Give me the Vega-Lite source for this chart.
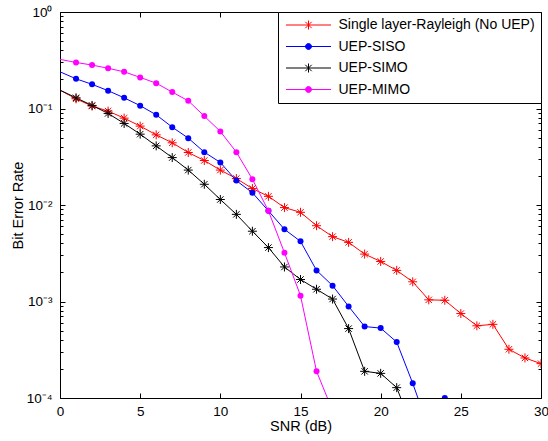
{
  "$schema": "https://vega.github.io/schema/vega-lite/v6.json",
  "width": 481,
  "height": 386,
  "autosize": "none",
  "padding": {"left": 60, "top": 12, "right": 7, "bottom": 43},
  "background": "white",
  "data": {"values": [
    {"s": "Single layer-Rayleigh (No UEP)", "x": 0, "y": 0.155},
    {"s": "Single layer-Rayleigh (No UEP)", "x": 1, "y": 0.126},
    {"s": "Single layer-Rayleigh (No UEP)", "x": 2, "y": 0.106},
    {"s": "Single layer-Rayleigh (No UEP)", "x": 3, "y": 0.094},
    {"s": "Single layer-Rayleigh (No UEP)", "x": 4, "y": 0.0794},
    {"s": "Single layer-Rayleigh (No UEP)", "x": 5, "y": 0.0657},
    {"s": "Single layer-Rayleigh (No UEP)", "x": 6, "y": 0.0533},
    {"s": "Single layer-Rayleigh (No UEP)", "x": 7, "y": 0.0441},
    {"s": "Single layer-Rayleigh (No UEP)", "x": 8, "y": 0.035},
    {"s": "Single layer-Rayleigh (No UEP)", "x": 9, "y": 0.0289},
    {"s": "Single layer-Rayleigh (No UEP)", "x": 10, "y": 0.023},
    {"s": "Single layer-Rayleigh (No UEP)", "x": 11, "y": 0.0188},
    {"s": "Single layer-Rayleigh (No UEP)", "x": 12, "y": 0.0148},
    {"s": "Single layer-Rayleigh (No UEP)", "x": 13, "y": 0.0123},
    {"s": "Single layer-Rayleigh (No UEP)", "x": 14, "y": 0.0094},
    {"s": "Single layer-Rayleigh (No UEP)", "x": 15, "y": 0.0084},
    {"s": "Single layer-Rayleigh (No UEP)", "x": 16, "y": 0.0061},
    {"s": "Single layer-Rayleigh (No UEP)", "x": 17, "y": 0.0047},
    {"s": "Single layer-Rayleigh (No UEP)", "x": 18, "y": 0.0041},
    {"s": "Single layer-Rayleigh (No UEP)", "x": 19, "y": 0.0031},
    {"s": "Single layer-Rayleigh (No UEP)", "x": 20, "y": 0.0026},
    {"s": "Single layer-Rayleigh (No UEP)", "x": 21, "y": 0.0021},
    {"s": "Single layer-Rayleigh (No UEP)", "x": 22, "y": 0.0016},
    {"s": "Single layer-Rayleigh (No UEP)", "x": 23, "y": 0.00104},
    {"s": "Single layer-Rayleigh (No UEP)", "x": 24, "y": 0.00103},
    {"s": "Single layer-Rayleigh (No UEP)", "x": 25, "y": 0.00075},
    {"s": "Single layer-Rayleigh (No UEP)", "x": 26, "y": 0.00056},
    {"s": "Single layer-Rayleigh (No UEP)", "x": 27, "y": 0.00058},
    {"s": "Single layer-Rayleigh (No UEP)", "x": 28, "y": 0.00032},
    {"s": "Single layer-Rayleigh (No UEP)", "x": 29, "y": 0.00026},
    {"s": "Single layer-Rayleigh (No UEP)", "x": 30, "y": 0.000227},
    {"s": "UEP-SISO", "x": 0, "y": 0.24},
    {"s": "UEP-SISO", "x": 1, "y": 0.203},
    {"s": "UEP-SISO", "x": 2, "y": 0.178},
    {"s": "UEP-SISO", "x": 3, "y": 0.153},
    {"s": "UEP-SISO", "x": 4, "y": 0.129},
    {"s": "UEP-SISO", "x": 5, "y": 0.107},
    {"s": "UEP-SISO", "x": 6, "y": 0.086},
    {"s": "UEP-SISO", "x": 7, "y": 0.0641},
    {"s": "UEP-SISO", "x": 8, "y": 0.0493},
    {"s": "UEP-SISO", "x": 9, "y": 0.0353},
    {"s": "UEP-SISO", "x": 10, "y": 0.0276},
    {"s": "UEP-SISO", "x": 11, "y": 0.0179},
    {"s": "UEP-SISO", "x": 12, "y": 0.0134},
    {"s": "UEP-SISO", "x": 13, "y": 0.0087},
    {"s": "UEP-SISO", "x": 14, "y": 0.0056},
    {"s": "UEP-SISO", "x": 15, "y": 0.0042},
    {"s": "UEP-SISO", "x": 16, "y": 0.0021},
    {"s": "UEP-SISO", "x": 17, "y": 0.00146},
    {"s": "UEP-SISO", "x": 18, "y": 0.00089},
    {"s": "UEP-SISO", "x": 19, "y": 0.00055},
    {"s": "UEP-SISO", "x": 20, "y": 0.00053},
    {"s": "UEP-SISO", "x": 21, "y": 0.00038},
    {"s": "UEP-SISO", "x": 22, "y": 0.000142},
    {"s": "UEP-SISO", "x": 23, "y": 0.000048},
    {"s": "UEP-SISO", "x": 24, "y": 0.0001},
    {"s": "UEP-SIMO", "x": 0, "y": 0.155},
    {"s": "UEP-SIMO", "x": 1, "y": 0.129},
    {"s": "UEP-SIMO", "x": 2, "y": 0.1076},
    {"s": "UEP-SIMO", "x": 3, "y": 0.0889},
    {"s": "UEP-SIMO", "x": 4, "y": 0.07},
    {"s": "UEP-SIMO", "x": 5, "y": 0.0542},
    {"s": "UEP-SIMO", "x": 6, "y": 0.041},
    {"s": "UEP-SIMO", "x": 7, "y": 0.031},
    {"s": "UEP-SIMO", "x": 8, "y": 0.023},
    {"s": "UEP-SIMO", "x": 9, "y": 0.0164},
    {"s": "UEP-SIMO", "x": 10, "y": 0.0114},
    {"s": "UEP-SIMO", "x": 11, "y": 0.008},
    {"s": "UEP-SIMO", "x": 12, "y": 0.00535},
    {"s": "UEP-SIMO", "x": 13, "y": 0.00362},
    {"s": "UEP-SIMO", "x": 14, "y": 0.00228},
    {"s": "UEP-SIMO", "x": 15, "y": 0.00169},
    {"s": "UEP-SIMO", "x": 16, "y": 0.00134},
    {"s": "UEP-SIMO", "x": 17, "y": 0.00106},
    {"s": "UEP-SIMO", "x": 18, "y": 0.000524},
    {"s": "UEP-SIMO", "x": 19, "y": 0.000189},
    {"s": "UEP-SIMO", "x": 20, "y": 0.00018},
    {"s": "UEP-SIMO", "x": 21, "y": 0.000128},
    {"s": "UEP-SIMO", "x": 22, "y": 0.000048},
    {"s": "UEP-MIMO", "x": 0, "y": 0.323},
    {"s": "UEP-MIMO", "x": 1, "y": 0.3},
    {"s": "UEP-MIMO", "x": 2, "y": 0.282},
    {"s": "UEP-MIMO", "x": 3, "y": 0.261},
    {"s": "UEP-MIMO", "x": 4, "y": 0.24},
    {"s": "UEP-MIMO", "x": 5, "y": 0.21},
    {"s": "UEP-MIMO", "x": 6, "y": 0.183},
    {"s": "UEP-MIMO", "x": 7, "y": 0.148},
    {"s": "UEP-MIMO", "x": 8, "y": 0.12},
    {"s": "UEP-MIMO", "x": 9, "y": 0.0834},
    {"s": "UEP-MIMO", "x": 10, "y": 0.0578},
    {"s": "UEP-MIMO", "x": 11, "y": 0.0353},
    {"s": "UEP-MIMO", "x": 12, "y": 0.0185},
    {"s": "UEP-MIMO", "x": 13, "y": 0.0087},
    {"s": "UEP-MIMO", "x": 14, "y": 0.0032},
    {"s": "UEP-MIMO", "x": 15, "y": 0.00115},
    {"s": "UEP-MIMO", "x": 16, "y": 0.000189},
    {"s": "UEP-MIMO", "x": 17, "y": 0.000074}
  ]},
  "layer": [
    {
      "encoding": {
        "x": {
          "field": "x", "type": "quantitative",
          "scale": {"domain": [0, 30], "nice": false, "zero": false},
          "axis": {"values": [0, 5, 10, 15, 20, 25, 30], "title": "SNR (dB)", "tickSize": -5, "labelPadding": 11.5, "titlePadding": 1, "grid": false, "domain": false, "labelFlush": false}
        },
        "y": {
          "field": "y", "type": "quantitative",
          "scale": {"type": "log", "domain": [0.0001, 1], "nice": false},
          "axis": {
            "values": [0.0001, 0.0002, 0.0003, 0.0004, 0.0005, 0.0006, 0.0007, 0.0008, 0.0009, 0.001, 0.002, 0.003, 0.004, 0.005, 0.006, 0.007, 0.008, 0.009, 0.01, 0.02, 0.03, 0.04, 0.05, 0.06, 0.07, 0.08, 0.09, 0.1, 0.2, 0.3, 0.4, 0.5, 0.6, 0.7, 0.8, 0.9, 1],
            "labelExpr": "datum.value == 1 ? '10⁰' : datum.value == 0.1 ? '10⁻¹' : datum.value == 0.01 ? '10⁻²' : datum.value == 0.001 ? '10⁻³' : datum.value == 0.0001 ? '10⁻⁴' : ''",
            "tickSize": {"condition": {"test": "indexof([1, 0.1, 0.01, 0.001, 0.0001], datum.value) >= 0", "value": -5}, "value": -3},
            "title": "Bit Error Rate", "labelPadding": 13, "titlePadding": 1, "grid": false, "domain": false, "labelFlush": false
          }
        }
      },
      "layer": [
        {
          "mark": {"type": "line", "strokeWidth": 1, "clip": true},
          "encoding": {
            "color": {
              "field": "s", "type": "nominal",
              "scale": {"domain": ["Single layer-Rayleigh (No UEP)", "UEP-SISO", "UEP-SIMO", "UEP-MIMO"], "range": ["#ff0000", "#0000ff", "#000000", "#ff00ff"]},
              "legend": {
                "title": null, "orient": "top-right", "offset": 0,
                "strokeColor": "black", "fillColor": "white", "padding": 6,
                "labelFontSize": 14, "labelColor": "black", "labelOffset": 23, "labelLimit": 0,
                "symbolSize": 100, "symbolStrokeWidth": 1, "symbolOffset": 17.5, "rowPadding": 7.5,
                "encode": {
                  "symbols": {
                    "update": {
                      "shape": {"signal": "(datum.value === 'UEP-SISO' || datum.value === 'UEP-MIMO') ? 'M-4.5,0H4.5M0.6,0A0.6,0.6,0,1,1,-0.6,0A0.6,0.6,0,1,1,0.6,0Z' : 'M-4.5,0H4.5M0,-0.9V0.9M-0.64,-0.64L0.64,0.64M-0.64,0.64L0.64,-0.64'"},
                      "fill": {"signal": "datum.value === 'UEP-SISO' ? '#0000ff' : datum.value === 'UEP-MIMO' ? '#ff00ff' : 'transparent'"},
                      "fillOpacity": {"value": 1}
                    }
                  }
                }
              }
            },
            "order": {"field": "x"}
          }
        },
        {
          "transform": [{"filter": "datum.x > 0 && (datum.s === 'Single layer-Rayleigh (No UEP)' || datum.s === 'UEP-SIMO')"}],
          "mark": {"type": "point", "filled": false, "strokeWidth": 1, "size": 81, "clip": true, "opacity": 1,
                   "shape": "M-1,0H1M0,-1V1M-0.7071,-0.7071L0.7071,0.7071M-0.7071,0.7071L0.7071,-0.7071"},
          "encoding": {"color": {"field": "s", "type": "nominal", "legend": null}}
        },
        {
          "transform": [{"filter": "datum.x > 0 && (datum.s === 'UEP-SISO' || datum.s === 'UEP-MIMO')"}],
          "mark": {"type": "circle", "size": 36, "clip": true, "opacity": 1},
          "encoding": {"color": {"field": "s", "type": "nominal", "legend": null}}
        }
      ]
    },
    {
      "mark": {"type": "point", "opacity": 0},
      "encoding": {
        "x": {
          "field": "x", "type": "quantitative",
          "scale": {"domain": [0, 30], "nice": false, "zero": false},
          "axis": {"orient": "top", "values": [0, 5, 10, 15, 20, 25, 30], "labels": false, "title": null, "tickSize": -5, "grid": false, "domain": false}
        },
        "y": {
          "field": "y", "type": "quantitative",
          "scale": {"type": "log", "domain": [0.0001, 1], "nice": false},
          "axis": {
            "orient": "right", "labels": false, "title": null, "grid": false, "domain": false,
            "values": [0.0001, 0.0002, 0.0003, 0.0004, 0.0005, 0.0006, 0.0007, 0.0008, 0.0009, 0.001, 0.002, 0.003, 0.004, 0.005, 0.006, 0.007, 0.008, 0.009, 0.01, 0.02, 0.03, 0.04, 0.05, 0.06, 0.07, 0.08, 0.09, 0.1, 0.2, 0.3, 0.4, 0.5, 0.6, 0.7, 0.8, 0.9, 1],
            "tickSize": {"condition": {"test": "indexof([1, 0.1, 0.01, 0.001, 0.0001], datum.value) >= 0", "value": -5}, "value": -3}
          }
        }
      }
    }
  ],
  "resolve": {"axis": {"x": "independent", "y": "independent"}},
  "config": {
    "font": "Liberation Sans",
    "view": {"stroke": "black", "strokeWidth": 1},
    "axis": {"labelFontSize": 13.5, "titleFontSize": 14.5, "labelColor": "black", "titleColor": "black", "titleFontWeight": "normal", "tickColor": "black", "tickWidth": 1, "labelFont": "Liberation Sans", "titleFont": "Liberation Sans"},
    "legend": {"labelFont": "Liberation Sans"}
  }
}
